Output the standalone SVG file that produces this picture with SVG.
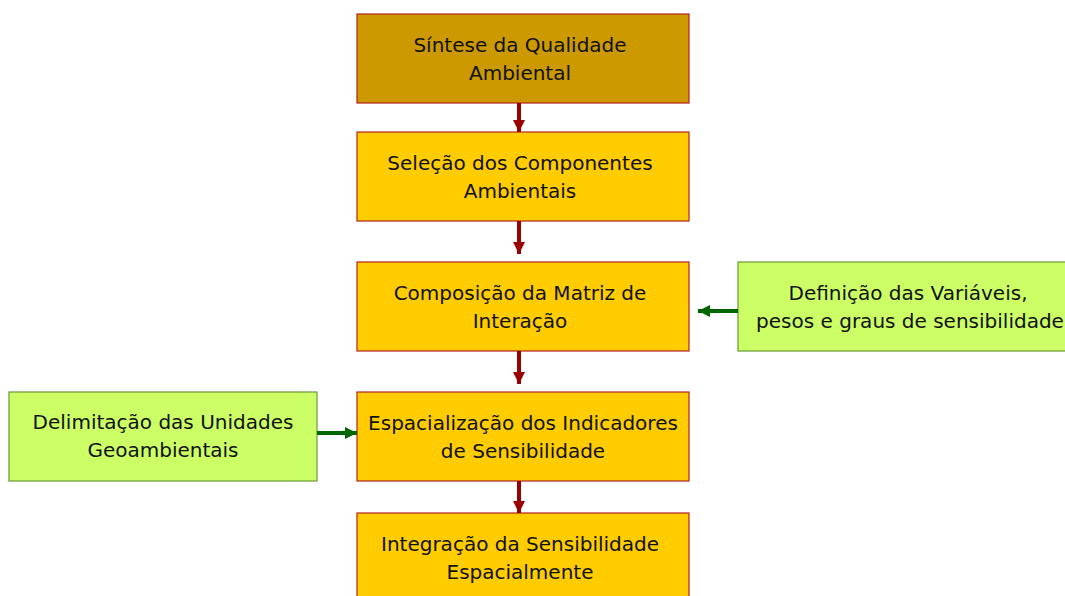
<svg xmlns="http://www.w3.org/2000/svg" width="1065" height="596" viewBox="0 0 1065 596">
<style>
.box{stroke:#B22222;stroke-width:1.2}
.main{fill:#FFCC00}
.top{fill:#CC9900}
.side{fill:#CCFF66;stroke:#669933;stroke-width:1.2}
text{font-family:"DejaVu Sans",sans-serif;font-size:20px;fill:#111;text-anchor:middle}
.red{stroke:#990000;stroke-width:4;fill:none}
.grn{stroke:#006600;stroke-width:4;fill:none}
</style>
<defs>
<marker id="ar" viewBox="0 0 10 10" refX="10" refY="5" markerWidth="3" markerHeight="3.4" orient="auto" markerUnits="strokeWidth"><path d="M0,0L10,5L0,10z" fill="#990000"/></marker>
<marker id="ag" viewBox="0 0 10 10" refX="10" refY="5" markerWidth="3" markerHeight="3.4" orient="auto" markerUnits="strokeWidth"><path d="M0,0L10,5L0,10z" fill="#006600"/></marker>
</defs>
<rect width="1065" height="596" fill="#fff"/>
<g id="n1"><rect class="box top" x="357" y="14" width="332" height="89"/><text x="520" y="52">Síntese da Qualidade</text><text x="520" y="80">Ambiental</text></g>
<g id="n2"><rect class="box main" x="357" y="132" width="332" height="89"/><text x="520" y="170">Seleção dos Componentes</text><text x="520" y="198">Ambientais</text></g>
<g id="n3"><rect class="box main" x="357" y="262" width="332" height="89"/><text x="520" y="300">Composição da Matriz de</text><text x="520" y="328">Interação</text></g>
<g id="n4"><rect class="box main" x="357" y="392" width="332" height="89"/><text x="523" y="430">Espacialização dos Indicadores</text><text x="523" y="458">de Sensibilidade</text></g>
<g id="n5"><rect class="box main" x="357" y="513" width="332" height="89"/><text x="520" y="551">Integração da Sensibilidade</text><text x="520" y="579">Espacialmente</text></g>
<g id="n6"><rect class="side" x="738" y="262" width="340" height="89"/><text x="908" y="300">Definição das Variáveis,</text><text x="910" y="328">pesos e graus de sensibilidade</text></g>
<g id="n7"><rect class="side" x="9" y="392" width="308" height="89"/><text x="163" y="429">Delimitação das Unidades</text><text x="163" y="457">Geoambientais</text></g>
<g id="connectors">
<line class="red" x1="519" y1="103" x2="519" y2="132" marker-end="url(#ar)"/>
<line class="red" x1="519" y1="221" x2="519" y2="254" marker-end="url(#ar)"/>
<line class="red" x1="519" y1="351" x2="519" y2="384" marker-end="url(#ar)"/>
<line class="red" x1="519" y1="481" x2="519" y2="513" marker-end="url(#ar)"/>
<line class="grn" x1="738" y1="311" x2="698" y2="311" marker-end="url(#ag)"/>
<line class="grn" x1="317" y1="433" x2="357" y2="433" marker-end="url(#ag)"/>
</g>
</svg>
